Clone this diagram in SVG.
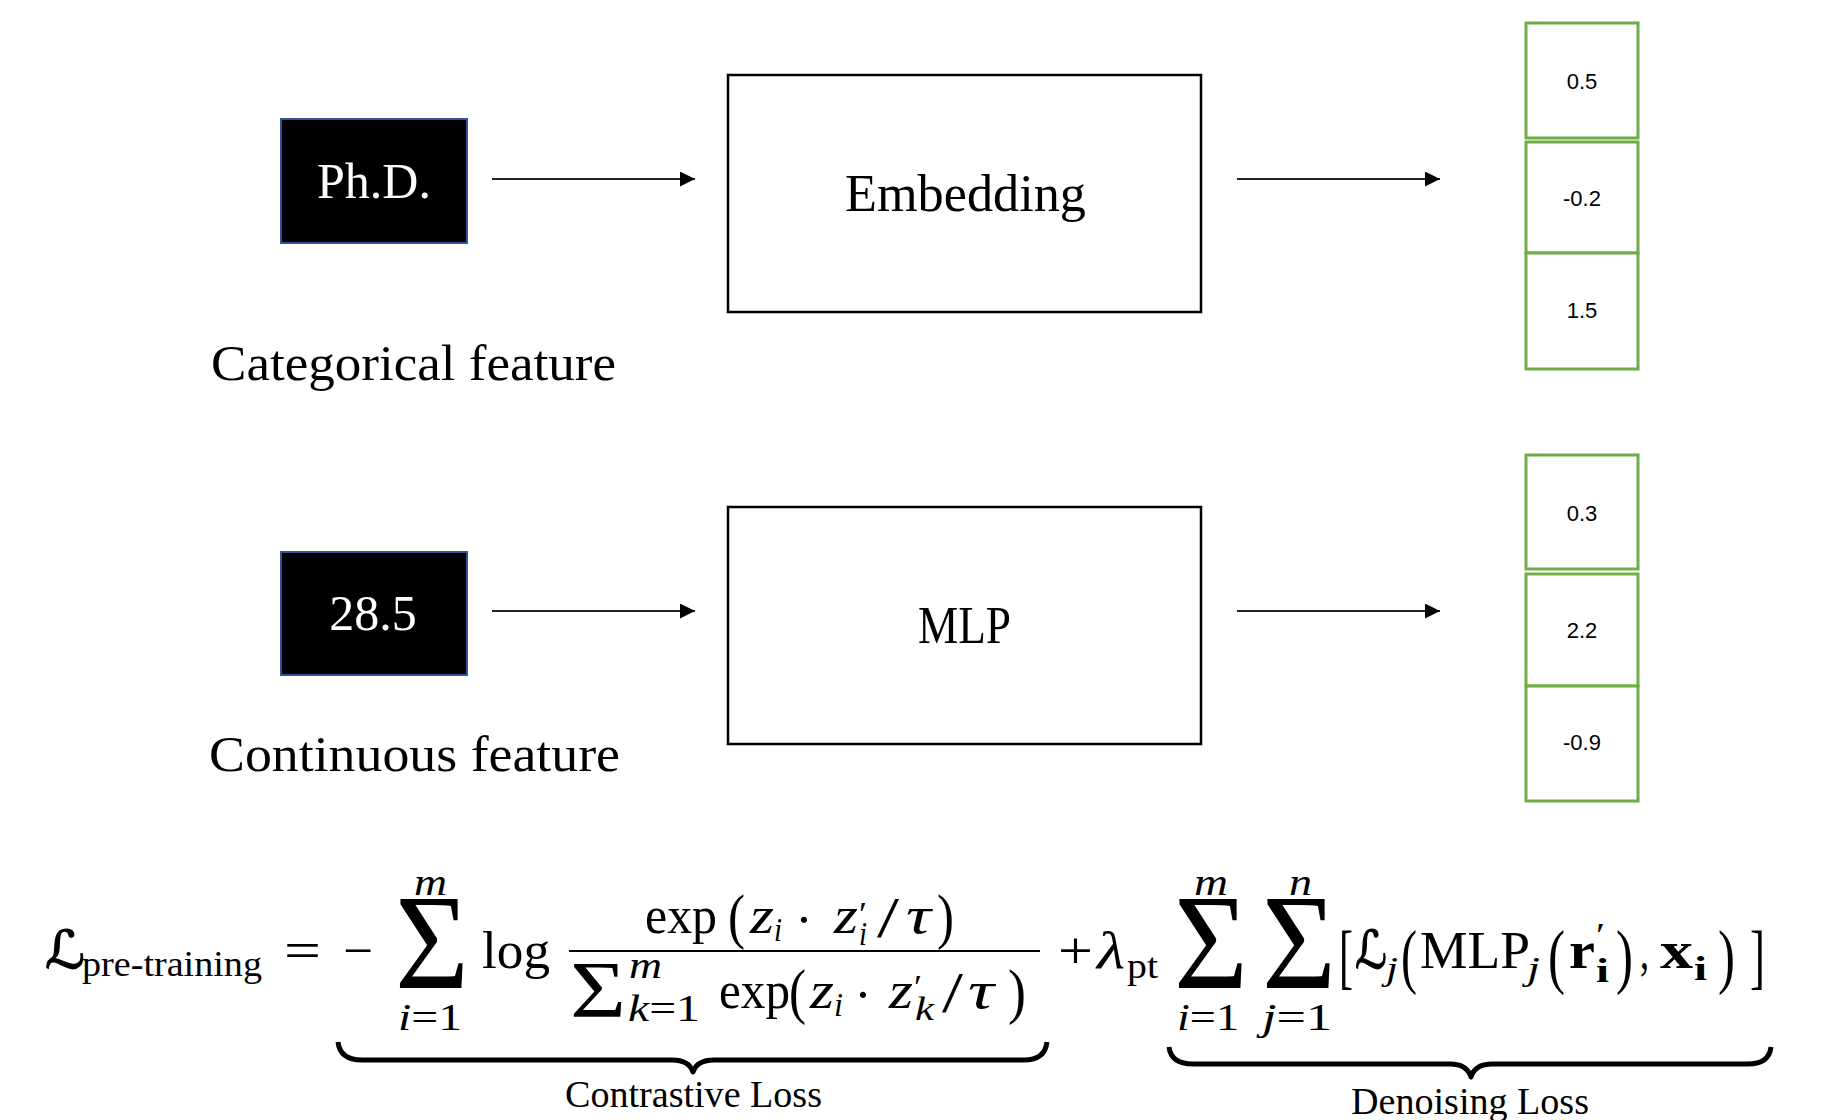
<svg xmlns="http://www.w3.org/2000/svg" width="1822" height="1120" viewBox="0 0 1822 1120">
  <style>
    .serif { font-family: "Liberation Serif", "DejaVu Serif", serif; fill: #000; }
    .sans { font-family: "Liberation Sans", "Open Sans", sans-serif; fill: #000; font-size: 22px; text-anchor: middle; }
    .input { fill: #000; stroke: #2F5597; stroke-width: 2; }
    .input-label { font-family: "Liberation Serif", "DejaVu Serif", serif; fill: #fff; font-size: 50px; text-anchor: middle; }
    .block { fill: #fff; stroke: #000; stroke-width: 2.5; }
    .block-label { font-family: "Liberation Serif", "DejaVu Serif", serif; fill: #000; font-size: 52px; }
    .caption { font-family: "Liberation Serif", "DejaVu Serif", serif; fill: #000; font-size: 50px; }
    .cell { fill: #fff; stroke: #70AD47; stroke-width: 3; }
    .edge { stroke: #222; stroke-width: 1.8; fill: none; }
    .m { font-size: 52px; }
    .s { font-size: 34px; }
    .lim { font-size: 38px; }
    .it { font-style: italic; }
    .b { font-weight: bold; }
    .big { font-size: 136px; }
    .paren { font-size: 62px; }
    .brk { font-size: 72px; }
    .script { font-family: "DejaVu Serif", "DejaVu Sans", serif; font-style: italic; stroke: #000; stroke-width: 1.2; }
    .brace { fill: none; stroke: #000; stroke-width: 5; stroke-linejoin: round; }
  </style>
  <defs>
    <marker id="arrow" markerUnits="userSpaceOnUse" markerWidth="16" markerHeight="16" refX="15" refY="7.5" orient="auto">
      <path d="M0,0 L15,7.5 L0,15 Z" fill="#000"/>
    </marker>
  </defs>

  <rect width="1822" height="1120" fill="#fff"/>

  <!-- categorical input -->
  <g id="phd">
    <rect class="input" x="281" y="119" width="186" height="124"/>
    <text class="input-label" x="374" y="198">Ph.D.</text>
  </g>
  <text id="cat-caption" class="caption" x="211" y="380" textLength="405" lengthAdjust="spacingAndGlyphs">Categorical feature</text>

  <!-- continuous input -->
  <g id="num">
    <rect class="input" x="281" y="552" width="186" height="123"/>
    <text class="input-label" x="373" y="630">28.5</text>
  </g>
  <text id="cont-caption" class="caption" x="209" y="771" textLength="411" lengthAdjust="spacingAndGlyphs">Continuous feature</text>

  <!-- encoders -->
  <g id="embedding">
    <rect class="block" x="728" y="75" width="473" height="237"/>
    <text class="block-label" x="845" y="211" textLength="241" lengthAdjust="spacingAndGlyphs">Embedding</text>
  </g>
  <g id="mlp">
    <rect class="block" x="728" y="507" width="473" height="237"/>
    <text class="block-label" x="918" y="643" textLength="93" lengthAdjust="spacingAndGlyphs">MLP</text>
  </g>

  <!-- output vectors -->
  <g id="vec-cat">
    <rect class="cell" x="1526" y="23" width="112" height="115"/>
    <rect class="cell" x="1526" y="142" width="112" height="111"/>
    <rect class="cell" x="1526" y="253" width="112" height="116"/>
    <text class="sans" x="1582" y="89">0.5</text>
    <text class="sans" x="1582" y="206">-0.2</text>
    <text class="sans" x="1582" y="318">1.5</text>
  </g>
  <g id="vec-num">
    <rect class="cell" x="1526" y="455" width="112" height="114"/>
    <rect class="cell" x="1526" y="574" width="112" height="112"/>
    <rect class="cell" x="1526" y="686" width="112" height="115"/>
    <text class="sans" x="1582" y="521">0.3</text>
    <text class="sans" x="1582" y="638">2.2</text>
    <text class="sans" x="1582" y="750">-0.9</text>
  </g>

  <!-- connectors -->
  <g id="connectors">
    <line class="edge" x1="492" y1="179" x2="695" y2="179" marker-end="url(#arrow)"/>
    <line class="edge" x1="1237" y1="179" x2="1440" y2="179" marker-end="url(#arrow)"/>
    <line class="edge" x1="492" y1="611" x2="695" y2="611" marker-end="url(#arrow)"/>
    <line class="edge" x1="1237" y1="611" x2="1440" y2="611" marker-end="url(#arrow)"/>
  </g>

  <!-- pre-training objective -->
  <g id="formula" class="serif">
    <text class="m script" x="45" y="968" textLength="40" lengthAdjust="spacingAndGlyphs">ℒ</text>
    <text x="82" y="976" font-size="36" textLength="180" lengthAdjust="spacingAndGlyphs">pre-training</text>
    <text class="m" x="284" y="968" textLength="37" lengthAdjust="spacingAndGlyphs">=</text>
    <text class="m" x="343" y="968" textLength="30" lengthAdjust="spacingAndGlyphs">−</text>
    <text class="big" x="395" y="988" textLength="74" lengthAdjust="spacingAndGlyphs">Σ</text>
    <text class="lim it" x="414" y="895" textLength="33" lengthAdjust="spacingAndGlyphs">m</text>
    <text class="lim" x="398" y="1030" textLength="64" lengthAdjust="spacingAndGlyphs"><tspan class="it">i</tspan>=1</text>
    <text class="m" x="482" y="968" textLength="68" lengthAdjust="spacingAndGlyphs">log</text>

    <!-- numerator -->
    <text class="m" x="645" y="933" textLength="72" lengthAdjust="spacingAndGlyphs">exp</text>
    <text class="paren" x="728" y="937" textLength="17" lengthAdjust="spacingAndGlyphs">(</text>
    <text class="m it" x="750" y="933" textLength="24" lengthAdjust="spacingAndGlyphs">z</text>
    <text class="s it" x="774" y="941" textLength="8" lengthAdjust="spacingAndGlyphs">i</text>
    <text class="m" x="804" y="937" text-anchor="middle">·</text>
    <text class="m it" x="834" y="933" textLength="24" lengthAdjust="spacingAndGlyphs">z</text>
    <text class="s" x="859" y="925" textLength="8" lengthAdjust="spacingAndGlyphs">′</text>
    <text class="s it" x="859" y="945" textLength="8" lengthAdjust="spacingAndGlyphs">i</text>
    <text x="877" y="937" font-size="56" textLength="22" lengthAdjust="spacingAndGlyphs">/</text>
    <text class="m it" x="906" y="933" textLength="25" lengthAdjust="spacingAndGlyphs">τ</text>
    <text class="paren" x="937" y="937" textLength="17" lengthAdjust="spacingAndGlyphs">)</text>

    <line x1="569" y1="951" x2="1040" y2="951" stroke="#000" stroke-width="2"/>

    <!-- denominator -->
    <text x="570" y="1017" font-size="80" textLength="56" lengthAdjust="spacingAndGlyphs">Σ</text>
    <text class="lim it" x="629" y="978" textLength="33" lengthAdjust="spacingAndGlyphs">m</text>
    <text class="lim" x="628" y="1021" textLength="72" lengthAdjust="spacingAndGlyphs"><tspan class="it">k</tspan>=1</text>
    <text class="m" x="719" y="1008" textLength="71" lengthAdjust="spacingAndGlyphs">exp</text>
    <text class="paren" x="789" y="1012" textLength="17" lengthAdjust="spacingAndGlyphs">(</text>
    <text class="m it" x="810" y="1008" textLength="24" lengthAdjust="spacingAndGlyphs">z</text>
    <text class="s it" x="834" y="1016" textLength="9" lengthAdjust="spacingAndGlyphs">i</text>
    <text class="m" x="863" y="1012" text-anchor="middle">·</text>
    <text class="m it" x="889" y="1008" textLength="24" lengthAdjust="spacingAndGlyphs">z</text>
    <text class="s" x="914" y="998" textLength="8" lengthAdjust="spacingAndGlyphs">′</text>
    <text class="s it" x="915" y="1020" textLength="19" lengthAdjust="spacingAndGlyphs">k</text>
    <text x="942" y="1012" font-size="56" textLength="21" lengthAdjust="spacingAndGlyphs">/</text>
    <text class="m it" x="968" y="1008" textLength="26" lengthAdjust="spacingAndGlyphs">τ</text>
    <text class="paren" x="1008" y="1012" textLength="18" lengthAdjust="spacingAndGlyphs">)</text>

    <!-- denoising term -->
    <text class="m" x="1058" y="968" textLength="35" lengthAdjust="spacingAndGlyphs">+</text>
    <text class="m it" x="1097" y="968" textLength="28" lengthAdjust="spacingAndGlyphs">λ</text>
    <text x="1127" y="978" font-size="36" textLength="31" lengthAdjust="spacingAndGlyphs">pt</text>
    <text class="big" x="1174" y="988" textLength="74" lengthAdjust="spacingAndGlyphs">Σ</text>
    <text class="big" x="1262" y="988" textLength="74" lengthAdjust="spacingAndGlyphs">Σ</text>
    <text class="lim it" x="1194" y="895" textLength="34" lengthAdjust="spacingAndGlyphs">m</text>
    <text class="lim it" x="1289" y="895" textLength="23" lengthAdjust="spacingAndGlyphs">n</text>
    <text class="lim" x="1177" y="1030" textLength="62" lengthAdjust="spacingAndGlyphs"><tspan class="it">i</tspan>=1</text>
    <text class="lim" x="1262" y="1030" textLength="70" lengthAdjust="spacingAndGlyphs"><tspan class="it">j</tspan>=1</text>
    <text class="brk" x="1339" y="980" textLength="14" lengthAdjust="spacingAndGlyphs">[</text>
    <text class="m script" x="1355" y="968" textLength="32" lengthAdjust="spacingAndGlyphs">ℒ</text>
    <text class="s it" x="1386" y="980" textLength="12" lengthAdjust="spacingAndGlyphs">j</text>
    <text class="brk" x="1401" y="980" textLength="16" lengthAdjust="spacingAndGlyphs">(</text>
    <text class="m" x="1420" y="968" textLength="110" lengthAdjust="spacingAndGlyphs">MLP</text>
    <text class="s it" x="1527" y="980" textLength="13" lengthAdjust="spacingAndGlyphs">j</text>
    <text class="brk" x="1548" y="980" textLength="17" lengthAdjust="spacingAndGlyphs">(</text>
    <text class="m b" x="1569" y="968" textLength="26" lengthAdjust="spacingAndGlyphs">r</text>
    <text class="s" x="1596" y="946" textLength="9" lengthAdjust="spacingAndGlyphs">′</text>
    <text class="s b" x="1596" y="982" textLength="13" lengthAdjust="spacingAndGlyphs">i</text>
    <text class="brk" x="1616" y="980" textLength="17" lengthAdjust="spacingAndGlyphs">)</text>
    <text class="m" x="1640" y="968" textLength="9" lengthAdjust="spacingAndGlyphs">,</text>
    <text class="m b" x="1660" y="968" textLength="33" lengthAdjust="spacingAndGlyphs">x</text>
    <text class="s b" x="1694" y="980" textLength="13" lengthAdjust="spacingAndGlyphs">i</text>
    <text class="brk" x="1718" y="980" textLength="17" lengthAdjust="spacingAndGlyphs">)</text>
    <text class="brk" x="1750" y="980" textLength="15" lengthAdjust="spacingAndGlyphs">]</text>

    <!-- underbraces -->
    <path class="brace" d="M338,1042 Q340,1060 362,1060 L672,1060 Q689,1060 693,1072 Q697,1060 714,1060 L1024,1060 Q1045,1060 1047,1042"/>
    <path class="brace" d="M1169,1047 Q1171,1064 1193,1064 L1450,1064 Q1467,1064 1471,1077 Q1475,1064 1492,1064 L1748,1064 Q1769,1064 1771,1047"/>
    <text x="565" y="1107" font-size="37" textLength="257" lengthAdjust="spacingAndGlyphs">Contrastive Loss</text>
    <text x="1351" y="1114" font-size="37" textLength="238" lengthAdjust="spacingAndGlyphs">Denoising Loss</text>
  </g>
</svg>
